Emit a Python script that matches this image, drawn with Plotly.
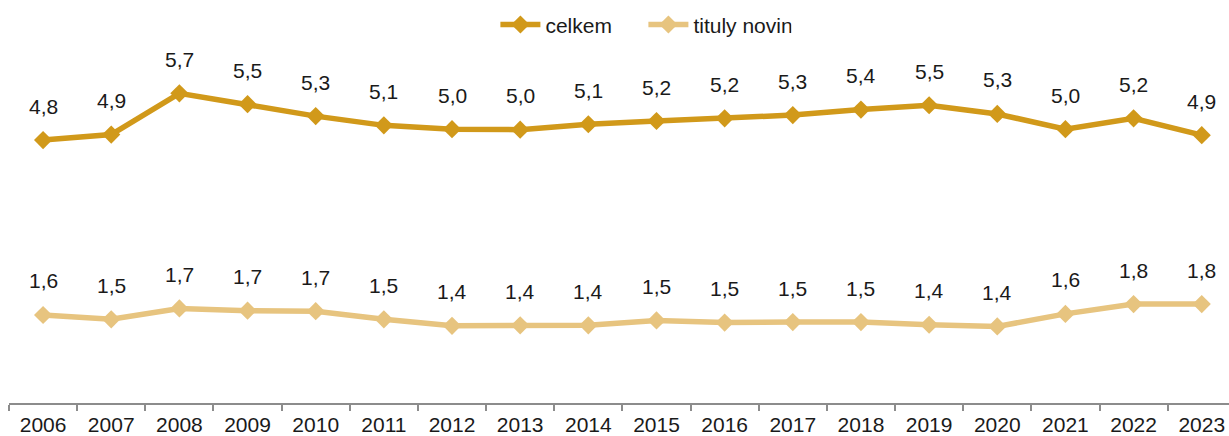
import plotly.graph_objects as go

roky = [str(r) for r in range(2006, 2024)]
celkem = [4.84, 4.94, 5.70, 5.50, 5.28, 5.11, 5.04, 5.03, 5.13, 5.19, 5.24, 5.30, 5.40, 5.48, 5.32, 5.04, 5.24, 4.93]
tituly_novin = [1.62, 1.54, 1.74, 1.70, 1.69, 1.54, 1.42, 1.43, 1.43, 1.52, 1.48, 1.49, 1.49, 1.44, 1.41, 1.64, 1.82, 1.82]

BARVA_CELKEM = "#D1991A"
BARVA_TITULY = "#E7C47F"
FONT = "Liberation Sans, Arial, sans-serif"

fig = go.Figure()
for nazev, hodnoty, barva in [
    ("celkem", celkem, BARVA_CELKEM),
    ("tituly novin", tituly_novin, BARVA_TITULY),
]:
    fig.add_trace(go.Scatter(
        x=roky,
        y=hodnoty,
        name=nazev,
        mode="lines+markers",
        line=dict(color=barva, width=5.5),
        marker=dict(symbol="diamond", size=14, color=barva),
    ))
    # popisky hodnot nad body (desetinná čárka); x jako index kategorie
    for i, v in enumerate(hodnoty):
        fig.add_annotation(
            x=i, y=v, text=f"{v:.1f}".replace(".", ","),
            showarrow=False, yshift=34,
            font=dict(family=FONT, size=21, color="#1a1a1a"),
        )

fig.update_layout(
    width=1229,
    height=436,
    paper_bgcolor="white",
    plot_bgcolor="white",
    font=dict(family=FONT, size=21, color="#1a1a1a"),
    margin=dict(t=77, b=33, l=9, r=0),
    showlegend=True,
    legend=dict(
        orientation="h", x=0.52, xanchor="center", y=1.16, yanchor="middle",
        font=dict(size=21), itemwidth=40,
        entrywidth=93, entrywidthmode="pixels",
    ),
)
fig.update_xaxes(
    type="category",
    range=[-0.5, 17.4],
    showline=True, linecolor="#8c8c8c", linewidth=2,
    ticks="outside", tickson="boundaries", ticklen=6, tickcolor="#8c8c8c", tickwidth=2,
    ticklabelstandoff=2,
    showgrid=False, zeroline=False,
)
fig.update_yaxes(range=[0, 6], visible=False, showgrid=False, zeroline=False)

fig.write_html(
    "out.html",
    config={"displayModeBar": False},
    post_script="document.body.style.margin='0';",
)
